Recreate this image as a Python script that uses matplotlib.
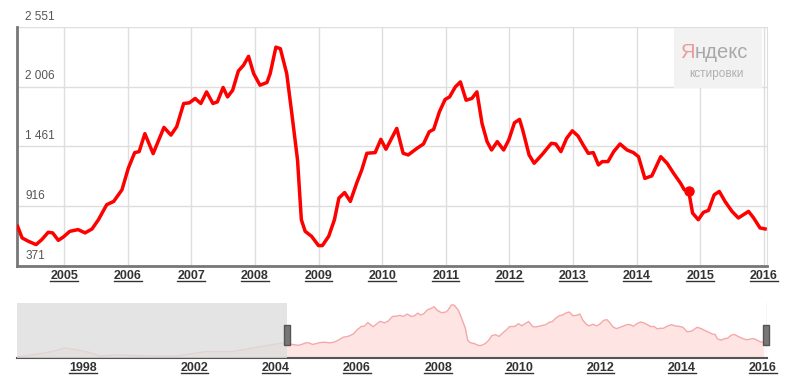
import matplotlib.pyplot as plt
from matplotlib.lines import Line2D

# main series, decimal years
years = [2004.27, 2004.34, 2004.44, 2004.56, 2004.65, 2004.75, 2004.82, 2004.91, 2004.99,
         2005.09, 2005.22, 2005.33, 2005.44, 2005.54, 2005.67, 2005.78, 2005.91,
         2006.01, 2006.11, 2006.18, 2006.27, 2006.40, 2006.57, 2006.68, 2006.77, 2006.88, 2006.97,
         2007.06, 2007.15, 2007.24, 2007.34, 2007.41, 2007.50, 2007.57, 2007.65, 2007.74, 2007.82,
         2007.90, 2007.98, 2008.08, 2008.19, 2008.24, 2008.33, 2008.40, 2008.50, 2008.58, 2008.67,
         2008.73, 2008.79, 2008.89, 2009.00, 2009.06, 2009.16, 2009.25, 2009.32, 2009.41, 2009.50,
         2009.60, 2009.68, 2009.76, 2009.89, 2009.98, 2010.06, 2010.23, 2010.33, 2010.41, 2010.55,
         2010.65, 2010.74, 2010.81, 2010.90, 2010.99, 2011.06, 2011.15, 2011.23, 2011.32, 2011.41,
         2011.49, 2011.57, 2011.65, 2011.72, 2011.81, 2011.91, 2011.99, 2012.08, 2012.16, 2012.21,
         2012.31, 2012.39, 2012.51, 2012.66, 2012.73, 2012.81, 2012.90, 2012.99, 2013.08, 2013.16,
         2013.24, 2013.32, 2013.40, 2013.46, 2013.55, 2013.64, 2013.74, 2013.85, 2013.95, 2014.03,
         2014.13, 2014.24, 2014.38, 2014.48, 2014.58, 2014.69, 2014.75, 2014.82, 2014.88, 2014.97,
         2015.05, 2015.13, 2015.22, 2015.30, 2015.39, 2015.50, 2015.60, 2015.68, 2015.76, 2015.84,
         2015.94, 2016.02]
values = [732, 627, 596, 566, 612, 678, 673, 605, 636,
          687, 703, 673, 709, 793, 930, 960, 1066,
          1263, 1405, 1414, 1578, 1396, 1635, 1565, 1641, 1853, 1859,
          1899, 1853, 1959, 1853, 1868, 1999, 1913, 1974, 2150, 2201,
          2283, 2126, 2020, 2045, 2126, 2367, 2353, 2126, 1762, 1338,
          793, 687, 642, 557, 557, 642, 793, 990, 1041, 960,
          1127, 1248, 1399, 1405, 1526, 1436, 1626, 1399, 1384, 1445,
          1484, 1595, 1617, 1777, 1890, 1913, 2004, 2050, 1883, 1899,
          1959, 1672, 1505, 1429, 1505, 1429, 1520, 1677, 1708, 1611,
          1384, 1308, 1384, 1490, 1484, 1414, 1535, 1604, 1556, 1475,
          1399, 1405, 1293, 1323, 1323, 1414, 1484, 1429, 1405, 1368,
          1170, 1193, 1368, 1308, 1218, 1127, 1066, 1051, 854, 793,
          860, 878, 1020, 1051, 960, 869, 809, 839, 869, 809,
          718, 709]

# highlighted point
mark_year, mark_value = 2014.82, 1051

# older history, only shown in the navigator
hist_years = [1997.63, 1998.27, 1998.5, 1998.8, 1998.98, 1999.17, 1999.42, 1999.67, 2000.09,
              2000.9, 2001.57, 2002.3, 2002.95, 2003.44, 2003.93, 2004.23]
hist_values = [50, 215, 290, 450, 400, 340, 245, 90, 140, 90, 90, 290, 290, 450, 600, 680]

y_ticks = [371, 916, 1461, 2006, 2551]
y_labels = ['371', '916', '1 461', '2 006', '2 551']
x_ticks = list(range(2005, 2017))
nav_tick_pos = [1999.25, 2002, 2004, 2006, 2008, 2010, 2012, 2014, 2016]
nav_labels = ['1998', '2002', '2004', '2006', '2008', '2010', '2012', '2014', '2016']

plt.rcParams['font.family'] = 'Liberation Sans'

fig = plt.figure(figsize=(7.85, 3.82), dpi=100)
ax = fig.add_axes([0.02166, 0.3037, 0.9554, 0.6257])
nav = fig.add_axes([0.02166, 0.0628, 0.9554, 0.144])

# ---- main chart
ax.plot(years, values, color='#ff0000', lw=2.5, solid_joinstyle='round', zorder=3)
ax.plot([mark_year], [mark_value], 'o', color='#ff0000', ms=6.5, zorder=4)
ax.set_xlim(years[0] - 0.01, 2016.05)
ax.set_ylim(y_ticks[0], y_ticks[-1])
ax.set_yticks(y_ticks)
ax.set_xticks(x_ticks)
ax.set_xticklabels([str(y) for y in x_ticks])
ax.grid(True, color='#dedede', lw=1)
ax.set_axisbelow(True)
ax.tick_params(length=0, labelleft=False)
ax.tick_params(axis='x', pad=3, labelsize=9, labelcolor='#333333')
for t in ax.get_xticklabels():
    t.set_fontweight('bold')
ax.spines['top'].set_visible(False)
ax.spines['right'].set_color('#dedede')
for side in ['left', 'bottom']:
    ax.spines[side].set_color('#777777')
    ax.spines[side].set_linewidth(2)

ytrans = ax.get_yaxis_transform()
for v, lab in zip(y_ticks, y_labels):
    ax.text(0.011, v + 40, lab, transform=ytrans, ha='left', va='bottom',
            fontsize=8.5, color='#555555', clip_on=False)

# watermark box
ax.add_patch(plt.Rectangle((0.876, 0.745), 0.117, 0.25, transform=ax.transAxes,
                           facecolor='#f2f2f2', edgecolor='none', zorder=2))
ax.text(0.904, 0.893, 'Я', transform=ax.transAxes, ha='right', va='center',
        fontsize=14.5, color='#ec9a9a', zorder=3)
ax.text(0.904, 0.893, 'ндекс', transform=ax.transAxes, ha='left', va='center',
        fontsize=14.5, color='#a8a8a8', zorder=3)
ax.text(0.933, 0.805, 'кстировки', transform=ax.transAxes, ha='center', va='center',
        fontsize=8.5, color='#b0b0b0', zorder=3)

# ---- navigator
nav_x = hist_years + years
nav_y = hist_values + values
nav.fill_between(nav_x, nav_y, color='#ffe4e4', lw=0)
nav.plot(nav_x, nav_y, color='#f4a8a8', lw=1)
nav.set_xlim(hist_years[0], 2016.1)
nav.set_ylim(0, 2450)
nav.axvspan(hist_years[0], years[0], color='#dedede', alpha=0.8, lw=0, zorder=3)
nav.axvline(2016.1, color='#cccccc', lw=1)
handle = [(-0.3, -1), (0.3, -1), (0.3, 1), (-0.3, 1), (-0.3, -1)]
xtrans = nav.get_xaxis_transform()
nav.plot([years[0], 2016.08], [0.42, 0.42], transform=xtrans, ls='none',
         marker=handle, ms=14, color='#777777', mec='#555555', zorder=5, clip_on=False)
nav.set_yticks([])
nav.set_xticks(nav_tick_pos)
nav.set_xticklabels(nav_labels)
nav.tick_params(length=0, pad=3, labelsize=9, labelcolor='#333333')
for t in nav.get_xticklabels():
    t.set_fontweight('bold')
for side in ['top', 'left', 'right']:
    nav.spines[side].set_visible(False)
nav.spines['bottom'].set_color('#555555')
nav.spines['bottom'].set_linewidth(1.5)

# underline the year labels, as links
fig.canvas.draw()
for a in (ax, nav):
    for t in a.get_xticklabels():
        bb = t.get_window_extent().transformed(fig.transFigure.inverted())
        fig.add_artist(Line2D([bb.x0, bb.x1], [bb.y0 + 0.002, bb.y0 + 0.002],
                              color='#333333', lw=1, transform=fig.transFigure))

fig.savefig('out.png', dpi=100, facecolor='white')
